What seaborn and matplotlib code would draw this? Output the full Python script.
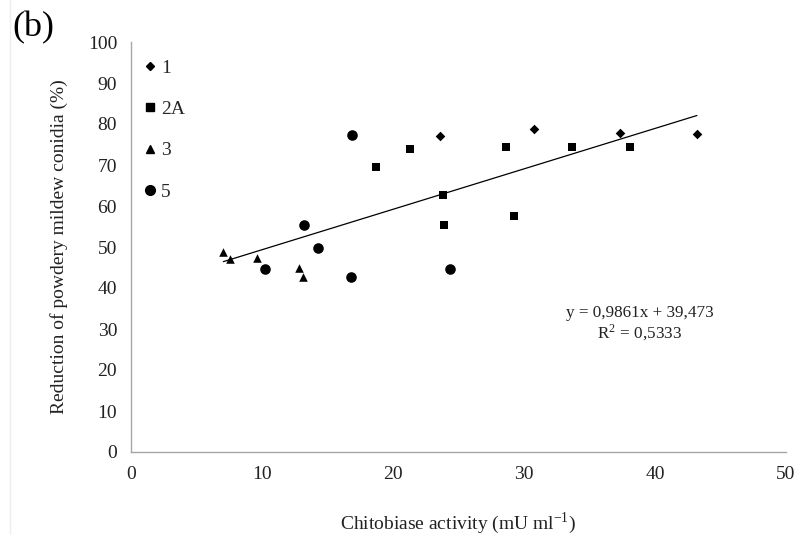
import matplotlib
matplotlib.use("Agg")
import matplotlib.pyplot as plt
from matplotlib.lines import Line2D
import seaborn as sns
import numpy as np
import pandas as pd

# ---- data ----
groups = ["1", "2A", "3", "5"]
x_1 = [23.6, 30.8, 37.3, 43.2]
y_1 = [77.1, 78.8, 77.7, 77.5]
x_2A = [18.7, 21.3, 23.85, 23.9, 28.6, 29.2, 33.7, 38.1]
y_2A = [69.6, 73.9, 62.6, 55.4, 74.5, 57.6, 74.5, 74.5]
x_3 = [7.05, 7.55, 9.65, 12.8, 13.15]
y_3 = [48.9, 47.0, 47.2, 45.0, 42.6]
x_5 = [16.9, 13.2, 14.3, 10.2, 16.8, 24.35]
y_5 = [77.4, 55.4, 49.8, 44.7, 42.8, 44.6]
slope = 0.9861
intercept = 39.473
r2_text = "0,5333"
eq_text = "y = 0,9861x + 39,473"
x_ticks = [0, 10, 20, 30, 40, 50]
y_ticks = [0, 10, 20, 30, 40, 50, 60, 70, 80, 90, 100]

xs = {"1": x_1, "2A": x_2A, "3": x_3, "5": x_5}
ys = {"1": y_1, "2A": y_2A, "3": y_3, "5": y_5}
df = pd.concat([pd.DataFrame({"x": xs[g], "y": ys[g], "group": g}) for g in groups],
               ignore_index=True)

sns.set_theme(style="white")
plt.rcParams["font.family"] = ["Liberation Serif", "DejaVu Serif"]
plt.rcParams["mathtext.fontset"] = "stix"

FS = 14
TXT = "#222222"

fig = plt.figure(figsize=(8.04, 5.35), dpi=100)
ax = fig.add_axes([131 / 804, 1 - 452 / 535, (786 - 131) / 804, (452 - 42) / 535])

markers = {"1": "D", "2A": "s", "3": "^", "5": "o"}
sizes = {"1": 24, "2A": 40, "3": 38, "5": 58}
for g in groups:
    sub = df[df.group == g]
    sns.scatterplot(data=sub, x="x", y="y", marker=markers[g], s=sizes[g],
                    color="black", edgecolor="black", linewidth=0, ax=ax,
                    legend=False)

# trend line
xmin, xmax = df.x.min(), df.x.max()
line_x = np.array([xmin, xmax])
line_df = pd.DataFrame({"x": line_x, "y": slope * line_x + intercept})
sns.lineplot(data=line_df, x="x", y="y", color="black", linewidth=0.9, ax=ax)

ax.set_xlim(0, 50)
ax.set_ylim(0, 100)
ax.set_xticks(x_ticks)
ax.set_yticks(y_ticks)
ax.tick_params(axis="both", labelsize=FS, direction="out", labelcolor=TXT)
ax.tick_params(axis="x", length=3, width=0.8, color="#a6a6a6", pad=7)
ax.tick_params(axis="y", length=4, width=0.8, color="#a6a6a6", pad=6)
for s in ["top", "right"]:
    ax.spines[s].set_visible(False)
for s in ["left", "bottom"]:
    ax.spines[s].set_color("#a6a6a6")
    ax.spines[s].set_linewidth(1.0)

ax.set_xlabel("Chitobiase activity (mU ml$^{\\mathregular{-1}}$)", fontsize=FS, color=TXT, labelpad=20)
ax.set_ylabel("Reduction of powdery mildew conidia (%)", fontsize=FS, color=TXT, labelpad=14)

# legend
handles = [Line2D([], [], marker=markers[g], linestyle="none", color="black",
                  markersize={"1": 4.5, "2A": 6, "3": 6, "5": 7}[g]) for g in groups]
ax.legend(handles, groups, loc="upper left", bbox_to_anchor=(-0.015, 1.015), frameon=False,
          fontsize=FS, labelspacing=1.22, handlelength=0.6, handletextpad=0.25,
          borderaxespad=0.8, borderpad=0.4)

ax.text(0.777, 0.312, eq_text + "\n" + "R$^{\\mathregular{2}}$ = " + r2_text, transform=ax.transAxes,
        ha="center", va="center", fontsize=12.3, color=TXT, linespacing=1.1)

fig.text(12 / 804, 1 - 28 / 535, "(b)", fontsize=26, ha="left", va="center", color="black")

fig.add_artist(Line2D([10 / 804, 10 / 804], [0, 1], color="#eeeeee", linewidth=1,
                      transform=fig.transFigure))

fig.savefig("out.png", dpi=100)
